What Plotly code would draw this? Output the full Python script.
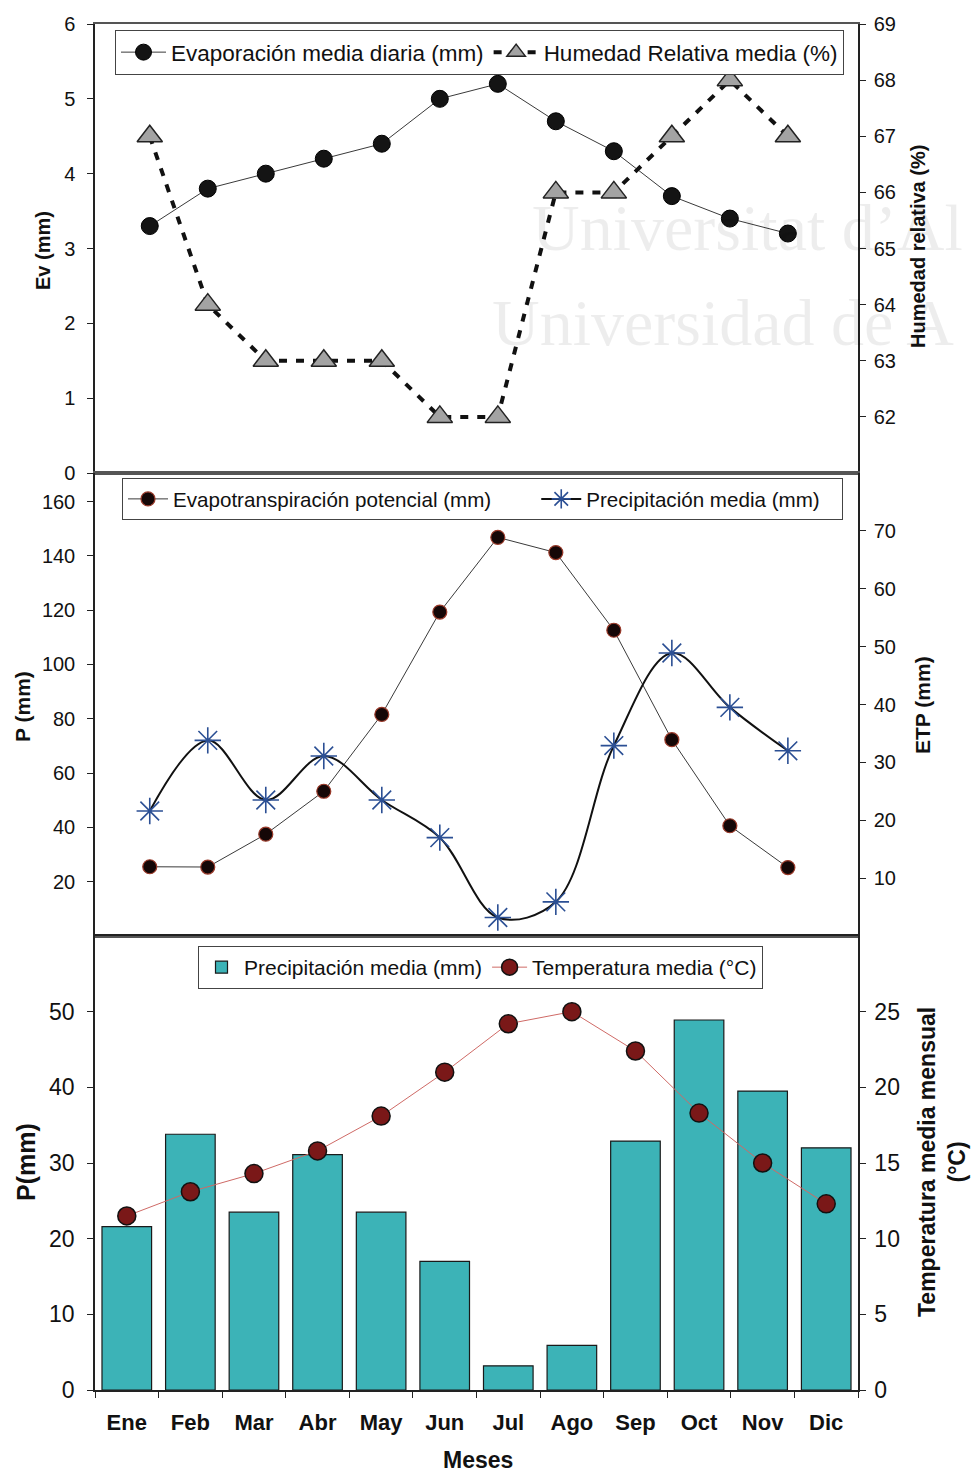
import plotly.graph_objects as go

# ---------------- data ----------------
meses = ["Ene", "Feb", "Mar", "Abr", "May", "Jun", "Jul", "Ago", "Sep", "Oct", "Nov", "Dic"]
evaporacion = [3.3, 3.8, 4.0, 4.2, 4.4, 5.0, 5.2, 4.7, 4.3, 3.7, 3.4, 3.2]
humedad = [67, 64, 63, 63, 63, 62, 62, 66, 66, 67, 68, 67]
etp = [25.5, 25.4, 37.5, 53.3, 81.6, 119.3, 146.8, 141.2, 112.6, 72.3, 40.6, 25.2]
precipitacion = [21.6, 33.8, 23.5, 31.1, 23.5, 17.0, 3.2, 5.9, 32.9, 48.9, 39.5, 32.0]
temperatura = [11.5, 13.1, 14.3, 15.8, 18.1, 21.0, 24.2, 25.0, 22.4, 18.3, 15.0, 12.3]

# ---------------- geometry helpers ----------------
W, H = 975, 1473
L, R, T, B = 95, 117, 24, 83
PW, PH = W - L - R, H - T - B


def xp(px):
    return (px - L) / PW


def yp(py):
    return (H - B - py) / PH


FONT = "Liberation Sans, Arial, sans-serif"
PAD = "\u00a0"
d1 = [yp(473), 1.0]
d2 = [yp(936), yp(473)]
d3 = [0.0, yp(936)]

fig = go.Figure()

# Panel 1
fig.add_trace(go.Scatter(
    x=meses, y=evaporacion, name="Evaporación media diaria (mm)",
    mode="lines+markers", xaxis="x", yaxis="y", legend="legend",
    line=dict(color="#3a3a3a", width=1),
    marker=dict(symbol="circle", size=17, color="#141414", line=dict(color="#000", width=1))))
fig.add_trace(go.Scatter(
    x=meses, y=humedad, name="Humedad Relativa media (%)",
    mode="lines+markers", xaxis="x", yaxis="y2", legend="legend",
    line=dict(color="#111", width=4, dash="8px,9px"),
    marker=dict(symbol="triangle-up", size=22, color="#a3a3a3", line=dict(color="#222", width=1.5))))

# Panel 2
fig.add_trace(go.Scatter(
    x=meses, y=etp, name="Evapotranspiración potencial (mm)" + PAD * 7,
    mode="lines+markers", xaxis="x2", yaxis="y3", legend="legend2",
    line=dict(color="#3a3a3a", width=1),
    marker=dict(symbol="circle", size=14, color="#150707", line=dict(color="#9a3a2a", width=1.2))))
fig.add_trace(go.Scatter(
    x=meses, y=precipitacion, name="Precipitación media (mm)" + PAD * 3,
    mode="lines+markers", xaxis="x2", yaxis="y4", legend="legend2",
    line=dict(color="#111", width=2, shape="spline", smoothing=1.0),
    marker=dict(symbol="asterisk-open", size=22, color="#2b4f94", line=dict(color="#2b4f94", width=1.6))))

# Panel 3
fig.add_trace(go.Bar(
    x=meses, y=precipitacion, name="Precipitación media (mm)",
    xaxis="x3", yaxis="y5", legend="legend3",
    marker=dict(color="#3cb3b7", line=dict(color="#1a1a1a", width=1.2))))
fig.add_trace(go.Scatter(
    x=meses, y=temperatura, name="Temperatura media (°C)",
    mode="lines+markers", xaxis="x3", yaxis="y6", legend="legend3",
    line=dict(color="#cf6a66", width=1),
    marker=dict(symbol="circle", size=18, color="#7a1818", line=dict(color="#111", width=1.5))))

tickfont = dict(family=FONT, size=20, color="#111")
tickfont3 = dict(family=FONT, size=23, color="#111")

cat_range = [-0.944, 12.209]
common_x = dict(showline=True, linecolor="#555", linewidth=1.5, mirror=True,
                showgrid=False, zeroline=False, showticklabels=False, ticks="",
                type="category", range=cat_range)

left_y = dict(showline=True, linecolor="#222", linewidth=1.5, ticks="outside", ticklen=6,
              tickcolor="#222", showgrid=False, zeroline=False, tickfont=tickfont,
              ticklabelstandoff=8)
right_y = dict(showline=True, linecolor="#222", linewidth=1.5, ticks="outside", ticklen=6,
               tickcolor="#222", showgrid=False, zeroline=False, tickfont=tickfont,
               side="right", ticklabelstandoff=4)

fig.update_layout(
    width=W, height=H,
    margin=dict(l=L, r=R, t=T, b=B),
    paper_bgcolor="white", plot_bgcolor="white",
    bargap=0.22,
    showlegend=True,
    xaxis=dict(**common_x, domain=[0, 1], anchor="y"),
    xaxis2=dict(**common_x, domain=[0, 1], anchor="y3"),
    xaxis3=dict(showline=True, linecolor="#222", linewidth=1.5, mirror=True,
                showgrid=False, zeroline=False, type="category", range=[-0.5, 11.5],
                ticks="outside", ticklen=6, tickcolor="#222", tickson="boundaries",
                tickfont=dict(family=FONT, size=22, color="#111", weight="bold"),
                ticklabelstandoff=12, domain=[0, 1], anchor="y5"),
    yaxis=dict(**left_y, domain=d1, range=[0, 6], tickvals=[0, 1, 2, 3, 4, 5, 6], anchor="x"),
    yaxis2=dict(**right_y, overlaying="y", range=[61, 69],
                tickvals=[62, 63, 64, 65, 66, 67, 68, 69], anchor="x"),
    yaxis3=dict(**left_y, domain=d2, range=[0, 170.5],
                tickvals=[20, 40, 60, 80, 100, 120, 140, 160], anchor="x2"),
    yaxis4=dict(**right_y, overlaying="y3", range=[0, 80],
                tickvals=[10, 20, 30, 40, 50, 60, 70], anchor="x2"),
    yaxis5=dict(**{**left_y, "tickfont": tickfont3}, domain=d3, range=[0, 60],
                tickvals=[0, 10, 20, 30, 40, 50], anchor="x3"),
    yaxis6=dict(**{**right_y, "tickfont": tickfont3}, overlaying="y5", range=[0, 30],
                tickvals=[0, 5, 10, 15, 20, 25], anchor="x3"),
    legend=dict(orientation="h", x=xp(115), y=yp(30), xanchor="left", yanchor="top",
                bgcolor="white", bordercolor="#444", borderwidth=1, itemwidth=45,
                font=dict(family=FONT, size=22.5, color="#111"), traceorder="normal"),
    legend2=dict(orientation="h", x=xp(122), y=yp(478), xanchor="left", yanchor="top",
                 bgcolor="white", bordercolor="#444", borderwidth=1, itemwidth=40,
                 font=dict(family=FONT, size=20.6, color="#111"), traceorder="normal"),
    legend3=dict(orientation="h", x=xp(198), y=yp(946), xanchor="left", yanchor="top",
                 bgcolor="white", bordercolor="#444", borderwidth=1, itemwidth=35,
                 font=dict(family=FONT, size=21, color="#111"), traceorder="normal"),
)

ann_font = lambda s: dict(family=FONT, size=s, color="#111", weight="bold")
wm_font = dict(family="Liberation Serif, Times New Roman, serif", size=66, color="rgba(0,0,0,0.07)")
annotations = [
    # watermark of the scanned document
    dict(text="Universitat d’Al", x=xp(530), y=yp(228), xanchor="left", font=wm_font),
    dict(text="Universidad de A", x=xp(490), y=yp(322), xanchor="left", font=wm_font),
    # axis titles
    dict(text="Ev (mm)", x=xp(43), y=yp(250), textangle=-90, font=ann_font(20)),
    dict(text="Humedad relativa (%)", x=xp(918), y=yp(247), textangle=-90, font=ann_font(20)),
    dict(text="P (mm)", x=xp(22), y=yp(707), textangle=-90, font=ann_font(21)),
    dict(text="ETP (mm)", x=xp(922), y=yp(705), textangle=-90, font=ann_font(21)),
    dict(text="P(mm)", x=xp(26), y=yp(1162), textangle=-90, font=ann_font(25)),
    dict(text="Temperatura media mensual<br>(°C)", x=xp(942), y=yp(1162), textangle=-90,
         font=ann_font(23), align="center"),
    dict(text="Meses", x=xp(478), y=yp(1460), font=ann_font(23)),
]
for a in annotations:
    a.setdefault("xref", "paper")
    a.setdefault("yref", "paper")
    a.setdefault("showarrow", False)
    a.setdefault("xanchor", "center")
    a.setdefault("yanchor", "middle")
fig.update_layout(annotations=annotations)

fig.write_html("out.html")
